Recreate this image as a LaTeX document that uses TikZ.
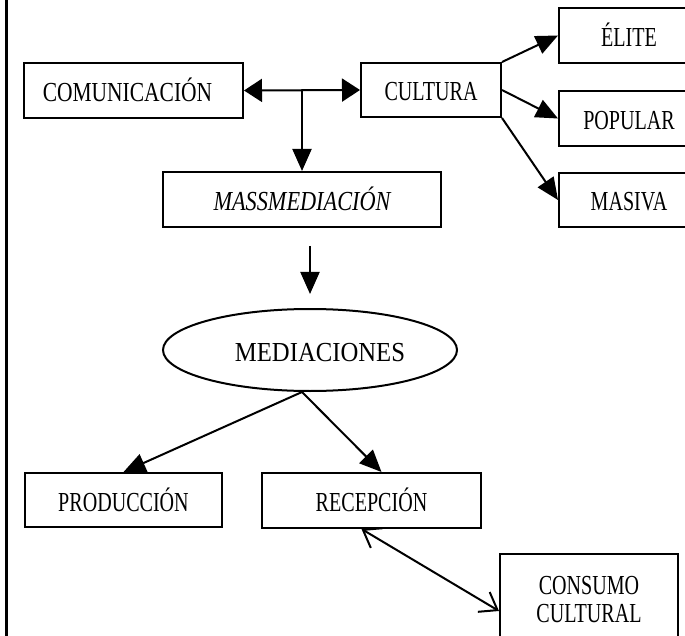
\documentclass[tikz,border=0pt]{standalone}
\usepackage{fontspec}
\setmainfont[FakeStretch=0.73]{Liberation Serif}
\usetikzlibrary{arrows.meta,calc,shapes.geometric}
\begin{document}
\begin{tikzpicture}[x=1pt,y=-1pt,
  lbl/.style={font=\fontsize{27.5}{28}\selectfont, text height=22pt, text depth=0pt, inner sep=0pt},
  box/.style={lbl, draw, line width=2pt, minimum height=55pt},
  conn/.style={line width=2pt, -{Triangle[length=22pt,width=19pt]}},
  dbl/.style={line width=2pt, {Triangle[length=18pt,width=23pt]}-{Triangle[length=18pt,width=23pt]}},
  barb/.style={line width=2pt, {Straight Barb[length=16pt,width=23pt]}-{Straight Barb[length=16pt,width=23pt]}}
]
\clip (0,0) rectangle (685,636);
\fill[white] (0,0) rectangle (685,636);
\draw[line width=3pt] (6,0) -- (6,636);

\node[box, minimum width=219pt] (com) at (133.5,90.5) {\scalebox{1.07}[1]{COMUNICACIÓN}\hspace*{12pt}};
\node[box, minimum width=140pt, minimum height=54pt] (cul) at (431,90) {CULTURA};
\node[box, minimum width=278pt] (mass) at (302,199.5) {\scalebox{1.11}[1]{\itshape MASSMEDIACIÓN}};
\node[box, minimum width=140pt] (eli) at (629,35.5) {ÉLITE};
\node[box, minimum width=140pt] (pop) at (629,118.5) {POPULAR};
\node[box, minimum width=140pt, minimum height=54pt] (mas) at (629,200) {MASIVA};
\node[lbl, draw, ellipse, line width=2pt, minimum width=294pt, minimum height=82pt] (med) at (310,350) {\hspace*{20pt}\scalebox{1.23}[1]{MEDIACIONES}};
\node[box, minimum width=197pt, minimum height=54pt] (prod) at (123.5,500) {PRODUCCIÓN};
\node[box, minimum width=219pt] (rec) at (371.5,500.5) {RECEPCIÓN};
\node[draw, line width=2pt, font=\fontsize{27.5}{28}\selectfont, align=center, inner sep=0pt,
      minimum width=178pt, minimum height=92pt] (cons) at (589,600) {CONSUMO\\CULTURAL};

\coordinate (j) at ($(com.east)!0.5!(cul.west)$);
\coordinate (ms) at ($(mass.south)+(8,18)$);
\coordinate (mt) at ($(med.north)+(0,-14)$);
\coordinate (mb) at ($(med.south)+(-8,0)$);
\coordinate (rn) at ($(rec.north)+(10,0)$);
\coordinate (rs) at ($(rec.south)+(-10,0)$);
\coordinate (cw) at ($(cons.west)+(0,11)$);

\draw[dbl] (com.east) -- (cul.west);
\draw[conn] (j) -- (mass.north);
\draw[conn] (cul.north east) -- (eli.west);
\draw[conn] (cul.east) -- (pop.west);
\draw[conn] (cul.south east) -- (mas.west);
\draw[conn] (ms) -- (mt);
\draw[conn] (mb) -- (prod.north);
\draw[conn] (mb) -- (rn);
\draw[barb] (rs) -- (cw);
\end{tikzpicture}
\end{document}
